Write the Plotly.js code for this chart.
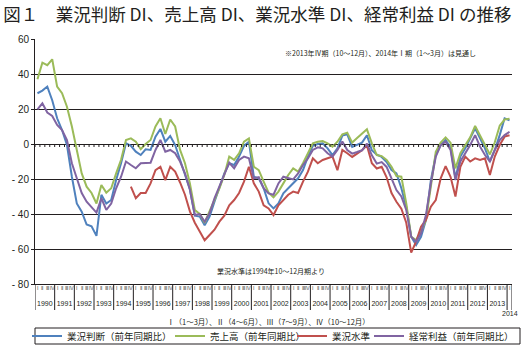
<!DOCTYPE html>
<html><head><meta charset="utf-8">
<script src="https://cdn.plot.ly/plotly-3.0.1.min.js"></script>
<style>html,body{margin:0;padding:0;background:#fff}#chart{width:524px;height:353px}</style>
</head><body><div id="chart"></div>
<script>
// Quarterly periods 1990 Q1 .. 2014 Q1
const startYear = 1990;
const nQuarters = 97;
const yearLabels = ['1990','1991','1992','1993','1994','1995','1996','1997','1998','1999','2000','2001','2002','2003','2004','2005','2006','2007','2008','2009','2010','2011','2012','2013'];
const lastYearLabel = '2014';
const quarterLabels = ['Ⅰ','Ⅱ','Ⅲ','Ⅳ'];

// 業況判断（前年同期比）
const gyokyoHandan = [29,30.5,32.8,25,14.7,8,-0.6,-18.7,-34,-38.7,-46,-47,-52.5,-29,-34,-32,-20.6,-11,0.4,-1,-4.4,-6.3,-3,-3.4,4.2,8.6,1.3,4.6,-0.6,-9,-16.8,-26,-41,-41.5,-46.5,-41.5,-33,-25.3,-16.8,-11,-12,-7.2,-1.1,1.3,-18.7,-19.6,-25.3,-33.9,-36.8,-33.9,-28.2,-25.3,-22.5,-19.6,-14.9,-7.2,-1.1,0,0.4,-2.5,-6.3,-2.5,4.8,5.5,-1.7,-0.4,0.8,5,-3.6,-6.1,-7.4,-10.3,-14.9,-16.8,-25.3,-35.8,-53,-57.7,-53,-43.4,-20.6,-6.3,-0.6,2.3,-1.9,-19.6,-7.2,-2.5,3.2,9,3.2,-2.5,-10,-3.4,5.1,14.7,13.5];
// 売上高（前年同期比）
const uriage = [37,46.5,45,48.4,32.8,29,21.3,10,-3.4,-16.8,-24.4,-28,-34,-23.4,-27.8,-25.3,-16.8,-9,2.3,3.2,1.3,-3,0,2.3,10,14.7,5.7,14,10,-3.4,-11,-22.5,-37.7,-40,-45,-38.7,-32,-25.3,-17.7,-7.2,-9.1,-5.3,1.3,3.2,-13,-14.9,-21.5,-27.8,-30.5,-27.2,-22.5,-17.7,-13.9,-15.8,-11,-5.3,0.4,1.3,1.7,0.4,-1.5,1.3,5.5,6.5,0.8,3.4,5.9,8.4,0.4,-6.3,-6.9,-9.1,-13,-18.3,-18.7,-33.9,-53,-54.9,-50,-43.4,-24.4,-4.4,0.8,3.8,0.8,-13.9,-5.3,-0.6,3.8,10.3,5.1,-0.6,-6,1,10.5,14,14.5];
// 業況水準 (1994年10～12月期より)
const gyokyoSuijun = [null,null,null,null,null,null,null,null,null,null,null,null,null,null,null,null,null,null,null,-24.4,-31,-28,-28,-22.5,-14.9,-13,-20.6,-13,-15.8,-22,-29,-38.5,-45,-50,-55,-52,-49,-44.4,-41,-35,-32,-28,-21.5,-13,-22.5,-27.2,-35,-36.8,-40.6,-35,-32,-29,-27.2,-28,-21.5,-15.8,-8.2,-11,-9.1,-8.2,-7.2,-15,-3.4,-5.3,-7.4,-5.5,-3.6,-0.8,-11,-14,-13,-19,-28,-33,-37,-45,-62,-55.8,-47.2,-43.4,-35.8,-32,-19.6,-12.6,-18.7,-30,-13,-7.2,-10,-8.2,-9.1,-8.2,-17.7,-7.2,-0.6,4.2,5];
// 経常利益（前年同期比）
const keijoRieki = [19.8,23.2,18,16,10.9,8,2.3,-11,-19.6,-28,-33,-35.8,-39.2,-31,-37.7,-34,-25.3,-18.7,-10,-12,-13.9,-11,-10.7,-10.7,-3.4,2.3,-4.4,-3.4,-5.3,-10,-16.8,-26,-40.6,-40,-44.4,-39.6,-31,-24.4,-17.7,-10.7,-13.9,-9.1,-7.2,-8.2,-19.6,-19,-25.3,-28.2,-29,-22.5,-18.7,-19.6,-20.2,-16.8,-12,-8.2,-3.4,-1.9,-2.5,-5.3,-7.2,-3.4,1.5,-3.4,-5.5,-4.6,-3.6,0.2,-6.5,-11.2,-10.3,-13.1,-19.6,-26.3,-30,-37.7,-53,-55.8,-51,-40.6,-22.5,-7.2,-0.6,1.3,-3.4,-20.6,-10,-5.3,-0.6,5.1,-1.5,-6.3,-10,-3.4,2.3,5.1,7];

const seriesNames = ['業況判断（前年同期比）','売上高（前年同期比）','業況水準','経常利益（前年同期比）'];
const seriesColors = ['#4f81bd','#9bbb59','#c0504d','#8064a2'];
const seriesData = [gyokyoHandan, uriage, gyokyoSuijun, keijoRieki];

const noteTop = '※2013年Ⅳ期（10～12月）、2014年Ⅰ期（1～3月）は見通し';
const noteSuijun = '業況水準は1994年10～12月期より';
const noteQuarter = 'Ⅰ（1～3月）、Ⅱ（4～6月）、Ⅲ（7～9月）、Ⅳ（10～12月）';
const titleText = '図１　業況判断 DI、売上高 DI、業況水準 DI、経常利益 DI の推移';

// derived x positions (quarter centres)
const xq = [];
for (let i = 0; i < nQuarters; i++) xq.push(startYear + (i + 0.5) / 4);
const xEnd = startYear + nQuarters / 4;
const yearBounds = [];
for (let y = startYear; y <= startYear + yearLabels.length; y++) yearBounds.push(y);
yearBounds.push(xEnd);
const yearCentres = yearLabels.map((_, k) => startYear + k + 0.5);
const quarterBounds = [];
for (let i = 0; i <= nQuarters; i++) quarterBounds.push(startYear + i / 4);
const quarterText = xq.map((_, i) => quarterLabels[i % 4]);

const CJK = '"Noto Sans CJK JP", "Noto Sans", sans-serif';
const SANS = '"Liberation Sans", Arial, sans-serif';
const ink = '#231f20';

// pixel geometry helpers -> paper fractions
const W = 524, H = 353, mL = 35, mR = 12, mT = 39, mB = 33;
const pw = W - mL - mR, ph = H - mT - mB;
const px = x => (x - mL) / pw;
const py = y => (H - mB - y) / ph;
const yDomLo = py(284);
const yMin = -80, yMax = 60;
const zeroPaper = yDomLo + (0 - yMin) / (yMax - yMin) * (1 - yDomLo);

const legendIds = ['legend','legend2','legend3','legend4'];
const traces = seriesData.map((d, k) => ({
  type: 'scatter', mode: 'lines', x: xq, y: d, name: seriesNames[k],
  line: {color: seriesColors[k], width: 2}, connectgaps: false,
  legend: legendIds[k], hoverinfo: 'skip'
}));
// invisible helper traces so that overlay axes are drawn
['x2','x4'].forEach(ax => traces.push({type: 'scatter', mode: 'none', x: [startYear], y: [yMin],
  xaxis: ax, yaxis: 'y', showlegend: false, hoverinfo: 'skip'}));

const legendX = [27, 170, 292, 369];
const legendCommon = (xpix) => ({
  x: px(xpix), xanchor: 'left', y: py(336), yanchor: 'middle',
  bgcolor: 'rgba(0,0,0,0)', borderwidth: 0, orientation: 'h',
  font: {family: CJK, size: 9.5, color: ink}, itemwidth: 30
});

const overlayBase = {overlaying: 'x', anchor: 'free', range: [startYear, xEnd], showline: false,
  showgrid: false, zeroline: false, fixedrange: true, automargin: false};

// separators between years (below the axis) and quarter ticks on the zero line
const shapes = [];
yearBounds.forEach(b => shapes.push({type: 'line', xref: 'x', yref: 'paper', x0: b, x1: b,
  y0: py(310), y1: py(284), line: {color: ink, width: 1}}));
quarterBounds.forEach(b => shapes.push({type: 'line', xref: 'x', yref: 'paper', x0: b, x1: b,
  y0: zeroPaper, y1: zeroPaper - 3 / ph, line: {color: ink, width: 1}}));
shapes.push({type: 'rect', xref: 'paper', yref: 'paper', x0: px(35), x1: px(520), y0: py(344), y1: py(328),
  line: {color: ink, width: 1}, fillcolor: 'rgba(0,0,0,0)'});

const ticksY = [-80,-60,-40,-20,0,20,40,60];
const layout = {
  width: W, height: H,
  margin: {l: mL, r: mR, t: mT, b: mB, pad: 0, autoexpand: false},
  paper_bgcolor: '#fff', plot_bgcolor: '#fff',
  title: {text: titleText, font: {family: CJK, size: 17.5, color: ink},
          x: 0.006, xref: 'container', xanchor: 'left', y: 1 - 15/H, yref: 'container', yanchor: 'middle'},
  showlegend: true,
  legend: legendCommon(legendX[0]),
  legend2: legendCommon(legendX[1]),
  legend3: legendCommon(legendX[2]),
  legend4: legendCommon(legendX[3]),
  yaxis: {domain: [yDomLo, 1], range: [yMin, yMax], tickvals: ticksY,
    ticktext: ticksY.map(v => v < 0 ? '- ' + Math.abs(v) : String(v)),
    showgrid: true, gridcolor: ink, gridwidth: 1, zeroline: false,
    showline: true, linecolor: ink, linewidth: 1, ticks: 'outside', ticklen: 3, tickcolor: ink,
    tickfont: {family: SANS, size: 10, color: ink}, fixedrange: true, automargin: false},
  xaxis: {anchor: 'y', range: [startYear, xEnd], ticks: '',
    showticklabels: false, showline: true, linecolor: ink, linewidth: 1,
    showgrid: false, zeroline: false, fixedrange: true, automargin: false},
  xaxis2: Object.assign({}, overlayBase, {position: py(298),
    tickvals: yearCentres, ticktext: yearLabels, ticks: '',
    tickangle: 0, tickfont: {family: SANS, size: 7, color: ink}}),
  xaxis4: Object.assign({}, overlayBase, {position: yDomLo,
    tickvals: xq, ticktext: quarterText, ticks: '',
    tickangle: 0, tickfont: {family: SANS, size: 5, color: '#555'}}),
  annotations: [
    {text: noteTop, xref: 'paper', yref: 'paper', x: px(283), y: py(53), xanchor: 'left', yanchor: 'middle',
     showarrow: false, font: {family: CJK, size: 7, color: ink}},
    {text: noteSuijun, xref: 'paper', yref: 'paper', x: px(215), y: py(271), xanchor: 'left', yanchor: 'middle',
     showarrow: false, font: {family: CJK, size: 7, color: ink}},
    {text: lastYearLabel, xref: 'x', yref: 'paper', x: xEnd - 0.1, y: py(313), xanchor: 'center', yanchor: 'middle',
     showarrow: false, font: {family: SANS, size: 7, color: ink}},
    {text: noteQuarter, xref: 'paper', yref: 'paper', x: px(165), y: py(321), xanchor: 'left', yanchor: 'middle',
     showarrow: false, font: {family: CJK, size: 7.5, color: ink}}
  ],
  shapes: shapes
};

Plotly.newPlot('chart', traces, layout, {displayModeBar: false, staticPlot: true});
</script>
</body></html>
